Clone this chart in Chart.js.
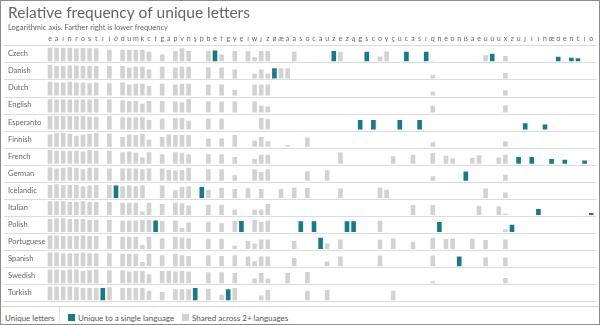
<!DOCTYPE html>
<html>
<head>
<meta charset="utf-8">
<script src="https://cdn.jsdelivr.net/npm/chart.js@4.4.1/dist/chart.umd.min.js"></script>
<style>
  body { margin: 0; background: #fff; font-family: Lato, sans-serif; }
  #wrap { position: relative; width: 600px; height: 325px; overflow: hidden; }
  #chart { position: absolute; left: 0; top: 0; }
  #frame { position: absolute; left: 0; top: 0; width: 600px; height: 325px; box-sizing: border-box; border: 1px solid #8c8c8c; pointer-events: none; }
  #legend { position: absolute; left: 1px; top: 306px; width: 598px; height: 18px; border-top: 1px solid #d6d6d6; font-size: 8px; color: #555; }
  #legend span { position: absolute; top: 6px; white-space: nowrap; }
  #legend .sw { top: 7px; width: 7px; height: 7px; }
  #legend .div { position: absolute; left: 58px; top: 0; height: 18px; border-left: 1px solid #e2e2e2; }
</style>
</head>
<body>
<div id="wrap">
  <canvas id="chart" width="600" height="306"></canvas>
  <div id="legend">
    <span style="left:4px">Unique letters</span>
    <div class="div"></div>
    <span class="sw" style="left:67px;background:#137b8a"></span>
    <span style="left:77px">Unique to a single language</span>
    <span class="sw" style="left:181px;background:#d2d2d2"></span>
    <span style="left:191px">Shared across 2+ languages</span>
  </div>
  <div id="frame"></div>
</div>
<script>
  const LETTERS = ["e", "a", "i", "n", "r", "o", "s", "t", "ı", "l", "ð", "d", "u", "m", "k", "c",
    "ł", "g", "ä", "p", "v", "h", "ş", "þ", "b", "ě", "f", "ğ", "y", "ę", "í", "w", "j", "z",
    "ø", "æ", "å", "á", "ś", "ö", "ć", "ã", "ü", "ž", "é", "ż", "ą", "ĝ", "š", "ĉ", "ó", "ý",
    "ç", "ŭ", "č", "à", "ŝ", "ř", "q", "ń", "ê", "ô", "ñ", "ß", "â", "è", "ú", "ů", "ù", "x",
    "ź", "û", "ĵ", "î", "ì", "ĥ", "œ", "ď", "ë", "ň", "ť", "ï", "ò"];

  const LANGUAGES = ["Czech", "Danish", "Dutch", "English", "Esperanto", "Finnish", "French",
    "German", "Icelandic", "Italian", "Polish", "Portuguese", "Spanish", "Swedish", "Turkish"];

  // bar heights (log frequency, 10 = tallest)
  const CZECH = { e: 10, a: 10, i: 10, n: 10, r: 9.5, o: 10, s: 9.5, t: 9.5, l: 8.5, d: 8.5, u: 8.5, m: 8.5, k: 8.5, c: 7,
    g: 5, p: 7.5, v: 9.5, h: 7.5, b: 7.5, "ě": 8, f: 5, y: 7.5, "í": 7.5, w: 3, j: 7.5, z: 7.5, "á": 7,
    "ž": 7.5, "é": 7, "š": 7, "ó": 3.5, "ý": 7.3, "č": 7, "ř": 7, q: 0.5, "ú": 4.5, "ů": 5.5, x: 4,
    "ď": 3.4, "ň": 2.7, "ť": 2.2 };
  const DANISH = { e: 10, a: 9, i: 9, n: 9.5, r: 9.5, o: 9, s: 9, t: 9, l: 9, d: 9, u: 8, m: 8.5, k: 8.5, c: 6.5,
    g: 8.5, p: 8, v: 8.5, h: 8.5, b: 8, f: 8, y: 6.5, w: 3.5, j: 6.5, z: 3.5, "ø": 7.5, "æ": 7.5, "å": 7.5,
    q: 2.7, x: 4 };
  const DUTCH = { e: 10, a: 9.5, i: 9.5, n: 10, r: 9.5, o: 9.5, s: 9, t: 9.5, l: 9, d: 9.5, u: 8, m: 8.5, k: 8.5, c: 7,
    g: 8.5, p: 8, v: 8.5, h: 8.5, b: 8, f: 8, y: 4, w: 8, j: 8, z: 8, q: 2.7, x: 3.9 };
  const ENGLISH = { e: 10, a: 9.5, i: 9.5, n: 9.5, r: 9.5, o: 9.5, s: 9.5, t: 10, l: 9.5, d: 9, u: 8.5, m: 8.5, k: 6.5,
    c: 8.5, g: 8.5, p: 8, v: 7.5, h: 10, b: 8, f: 8, y: 8, w: 8, j: 5, z: 4.5, q: 4.9, x: 5.4 };
  const ESPERANTO = { e: 10, a: 10, i: 10, n: 10, r: 10, o: 10, s: 9.5, t: 9.5, l: 10, d: 9, u: 9, m: 9, k: 9, c: 7,
    g: 8, p: 8.5, v: 8.5, h: 6.5, b: 8, f: 8, j: 8.5, z: 7.5, "ĝ": 7, "ĉ": 7, "ŭ": 7, "ŝ": 7, "ĵ": 4.6, "ĥ": 3.7 };
  const FINNISH = { e: 9, a: 10, i: 10, n: 9.5, r: 8, o: 9, s: 9.5, t: 10, l: 9.5, d: 7, u: 9, m: 8.5, k: 9.5, c: 5,
    g: 7, "ä": 9, p: 8.5, v: 8.5, h: 8.5, b: 6, f: 6, y: 8.5, w: 4.5, j: 7, z: 4, "å": 1, "ö": 6.8, q: 3.2, x: 3.9 };
  const FRENCH = { e: 10, a: 9.5, i: 9.5, n: 9.5, r: 9.5, o: 9, s: 10, t: 9.5, l: 9.5, d: 8.5, u: 9, m: 8, k: 4.5, c: 8.5,
    g: 7, p: 8.5, v: 8, h: 7, b: 7, f: 7, y: 5, w: 3.5, j: 6.5, z: 6.5, "é": 8.3, "ç": 5.4, "à": 6.6, q: 7.8,
    "ê": 5.9, "ô": 3.9, "â": 4.4, "è": 6.3, "ù": 4.6, x: 6.6, "û": 4.9, "î": 4.9, "œ": 3.4, "ë": 2.9, "ï": 2.4 };
  const GERMAN = { e: 10, a: 9, i: 9.5, n: 10, r: 9.5, o: 8.5, s: 9.5, t: 9.5, l: 9, d: 9, u: 9, m: 9, k: 8.5, c: 9,
    g: 9, "ä": 8, p: 7.5, v: 8, h: 9.5, b: 8.5, f: 8.5, y: 4, w: 8.5, j: 6.5, z: 8.5, "ö": 7, "ü": 7.8, q: 3.4,
    "ß": 6.8, x: 4.4 };
  const ICELANDIC = { e: 9.5, a: 10, i: 9.5, n: 9.5, r: 9.5, o: 8.5, s: 9, t: 9.5, l: 9.5, "ð": 9, d: 8.5, u: 9, m: 8.5,
    k: 9, g: 9, p: 5.5, v: 8, h: 8.5, "þ": 8, b: 6, f: 7.5, y: 6.5, "í": 7, j: 6.5, "æ": 6.5, "á": 7.5, "ö": 7.3,
    "é": 6.8, "ó": 7.6, "ý": 5.9, "ú": 6.8, x: 3.9 };
  const ITALIAN = { e: 10, a: 10, i: 10, n: 9.5, r: 9.5, o: 10, s: 9.5, t: 9.5, l: 9.5, d: 9, u: 9, m: 9, k: 2.5, c: 9,
    g: 8, p: 9, v: 8.5, h: 7, b: 7.5, f: 7.5, y: 4, w: 4, j: 4, z: 8, "à": 7.3, q: 7.3, "è": 6.8, "ù": 6.3, x: 1,
    "ì": 4.4, "ò": 1.5 };
  const POLISH = { e: 9.5, a: 10, i: 10, n: 9.5, r: 9.5, o: 9.5, s: 9, t: 9, l: 9, d: 8.5, u: 8.5, m: 8.5, k: 9, c: 9,
    "ł": 8.5, g: 8, p: 8.5, v: 3, h: 7, b: 7.5, f: 6.5, y: 8, "ę": 8, w: 9, j: 7.5, z: 8.5, "ś": 7.8, "ć": 7.8,
    "ż": 7.8, "ą": 7.8, "ó": 8.3, "ń": 7.3, x: 2, "ź": 5.4 };
  const PORTUGUESE = { e: 10, a: 10, i: 9.5, n: 9.5, r: 9.5, o: 10, s: 9.5, t: 9.5, l: 9.5, d: 9, u: 9, m: 9, k: 3, c: 9,
    g: 8, p: 9, v: 8.5, h: 8, b: 7.5, f: 7.5, y: 2.5, "í": 6, w: 4, j: 7, z: 7, "á": 6, "ã": 8.3, "ü": 4.1,
    "é": 7.1, "ó": 7.1, "ç": 7.8, "à": 5.4, q: 8.3, "ê": 7.3, "ô": 7.8, "â": 7.8, "ú": 6.6, x: 7.1 };
  const SPANISH = { e: 10, a: 10, i: 9.5, n: 9.5, r: 9.5, o: 10, s: 9.5, t: 9.5, l: 9.5, d: 9, u: 9, m: 9, k: 3, c: 9,
    g: 8, p: 9, v: 8, h: 7.5, b: 8, f: 7.5, y: 8, "í": 7, w: 3.5, j: 7, z: 7, "á": 6, "ü": 3.4, "é": 7, "ó": 7.8,
    q: 7.8, "ñ": 7, "ú": 6.3, x: 6.3 };
  const SWEDISH = { e: 10, a: 10, i: 9.5, n: 10, r: 10, o: 9, s: 9.5, t: 10, l: 9.5, d: 9.5, u: 8.5, m: 9, k: 9, c: 6.5,
    g: 9, "ä": 9, p: 8.5, v: 9, h: 8.5, b: 8, f: 8, y: 7.5, w: 3.5, j: 7.5, z: 3.5, "å": 7.5, "ö": 8.3, q: 1.5,
    x: 3.9 };
  const TURKISH = { e: 10, a: 10, i: 10, n: 10, r: 9.5, o: 9, s: 9, t: 9, "ı": 9, l: 9.5, d: 9, u: 9, m: 9, k: 9, c: 7,
    g: 6, p: 8, v: 8, h: 8, "ş": 9, b: 8.5, f: 4, "ğ": 8, y: 9, j: 3.5, z: 7.5, "ö": 7, "ü": 7.5, "ç": 7 };

  const FREQUENCIES = [CZECH, DANISH, DUTCH, ENGLISH, ESPERANTO, FINNISH, FRENCH, GERMAN, ICELANDIC,
    ITALIAN, POLISH, PORTUGUESE, SPANISH, SWEDISH, TURKISH];

  const TEAL = "#137b8a";
  const GREY = "#d2d2d2";
  const BAR_UNIT = 0.08;  // row fraction per height unit
  const BAR_GAP = 0.06;   // gap between bar foot and row line

  function isUnique(letter) {
    return FREQUENCIES.filter((freq) => freq[letter] > 0).length === 1;
  }

  const rowLines = {
    id: "rowLines",
    beforeDatasetsDraw(chart) {
      const { ctx, chartArea, scales } = chart;
      ctx.save();
      ctx.strokeStyle = "#dcdcdc";
      ctx.lineWidth = 1;
      for (let i = 0; i <= LANGUAGES.length; i++) {
        const py = Math.round(scales.y.getPixelForValue(i)) + 0.5;
        ctx.beginPath();
        ctx.moveTo(4, py);
        ctx.lineTo(chartArea.right + 2, py);
        ctx.stroke();
      }
      ctx.restore();
    },
  };

  Chart.defaults.font.family = "Lato, sans-serif";

  const datasets = FREQUENCIES.map((freq, row) => ({
    label: LANGUAGES[row],
    data: LETTERS.map((letter) =>
      freq[letter] ? [row + 1 - BAR_GAP - freq[letter] * BAR_UNIT, row + 1 - BAR_GAP] : null
    ),
    backgroundColor: LETTERS.map((letter) => (isUnique(letter) ? TEAL : GREY)),
    borderWidth: 0,
  }));

  new Chart(document.getElementById("chart"), {
    type: "bar",
    data: { labels: LETTERS, datasets },
    plugins: [rowLines],
    options: {
      responsive: false,
      animation: false,
      layout: { padding: { left: 8, right: 5.5, top: 0, bottom: 4.7 } },
      datasets: { bar: { grouped: false, categoryPercentage: 1, barPercentage: 0.7 } },
      plugins: {
        legend: { display: false },
        tooltip: { enabled: false },
        title: {
          display: true,
          text: "Relative frequency of unique letters",
          align: "start",
          color: "#666",
          font: { size: 15.5, weight: "normal" },
          padding: { top: 4, bottom: 0 },
        },
        subtitle: {
          display: true,
          text: "Logarithmic axis. Farther right is lower frequency",
          align: "start",
          color: "#666",
          font: { size: 7.5 },
          padding: { top: 0, bottom: 5 },
        },
      },
      scales: {
        x: {
          position: "top",
          offset: true,
          grid: { display: false, drawTicks: false },
          border: { display: false },
          ticks: { autoSkip: false, maxRotation: 0, minRotation: 0, padding: 2, color: "#666", font: { size: 7 } },
          afterFit: (scale) => { scale.height = 8.7; },
        },
        y: {
          min: 0,
          max: LANGUAGES.length,
          reverse: true,
          grid: { display: false, drawTicks: false },
          border: { display: false },
          afterBuildTicks: (scale) => {
            scale.ticks = LANGUAGES.map((_, i) => ({ value: i + 0.5 }));
          },
          ticks: {
            crossAlign: "far",
            padding: 0,
            color: "#666",
            font: { size: 7.5 },
            callback: (value, index) => LANGUAGES[index],
          },
          afterFit: (scale) => { scale.width = 38.7; },
        },
      },
    },
  });
</script>
</body>
</html>
